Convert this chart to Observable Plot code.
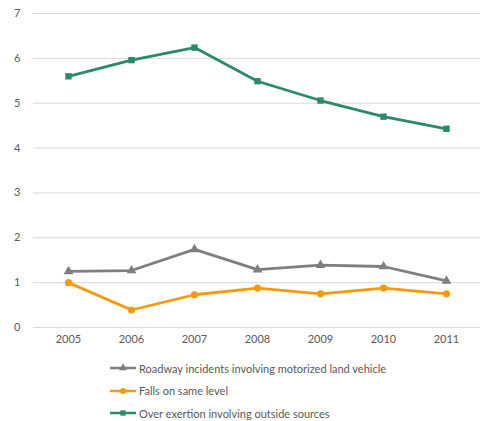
<!DOCTYPE html>
<html>
<head>
<meta charset="utf-8">
<script src="https://cdn.jsdelivr.net/npm/d3@7"></script>
<script src="https://cdn.jsdelivr.net/npm/@observablehq/plot@0.6"></script>
<style>
  body { margin: 0; background: #fff; font-family: Lato, "Open Sans", sans-serif; }
  #legend { margin-left: 110px; margin-top: 5px; font-size: 11px; color: #595959; }
  .row { display: flex; align-items: center; height: 22.5px; }
  .row svg { margin-right: 3px; }
</style>
</head>
<body>
<div id="chart"></div>
<div id="legend"></div>
<script>
const years = [2005, 2006, 2007, 2008, 2009, 2010, 2011];
const seriesNames = [
  "Roadway incidents involving motorized land vehicle",
  "Falls on same level",
  "Over exertion involving outside sources"
];
const roadway = [1.25, 1.27, 1.74, 1.29, 1.39, 1.36, 1.04];
const falls = [1.00, 0.39, 0.73, 0.88, 0.75, 0.88, 0.75];
const overexertion = [5.60, 5.96, 6.24, 5.49, 5.06, 4.70, 4.43];
const colors = ["#7f7f7f", "#f7990f", "#2a8a6a"];
const symbols = ["triangle", "circle", "square"];
const yTicks = [0, 1, 2, 3, 4, 5, 6, 7];

const valuesList = [roadway, falls, overexertion];
const data = [];
seriesNames.forEach((s, i) => years.forEach((y, j) => data.push({series: s, year: String(y), value: valuesList[i][j]})));

const chart = Plot.plot({
  width: 487,
  height: 352,
  marginLeft: 33,
  marginRight: 7,
  marginTop: 13,
  marginBottom: 25,
  style: {fontFamily: "Lato, 'Open Sans', sans-serif", fontSize: "11px", color: "#595959"},
  x: {type: "point", domain: years.map(String), padding: 0.5, label: null, tickSize: 0, tickPadding: 8},
  y: {domain: [0, 7], ticks: yTicks, label: null, tickSize: 0, tickPadding: 13},
  color: {domain: seriesNames, range: colors},
  symbol: {domain: seriesNames, range: symbols},
  marks: [
    Plot.gridY(yTicks, {stroke: "#d9d9d9", strokeOpacity: 1, strokeWidth: 1}),
    Plot.axisX({tickSize: 0, tickPadding: 8, fill: "#595959"}),
    Plot.axisY(yTicks, {tickSize: 0, tickPadding: 13, fill: "#595959"}),
    Plot.line(data, {x: "year", y: "value", z: "series", stroke: "series", strokeWidth: 2.8}),
    Plot.dot(data, {x: "year", y: "value", symbol: "series", fill: "series", stroke: null, r: 3.6})
  ]
});
document.getElementById("chart").appendChild(chart);

const legend = d3.select("#legend");
seriesNames.forEach((s, i) => {
  const row = legend.append("div").attr("class", "row");
  const sv = row.append("svg").attr("width", 26).attr("height", 10);
  sv.append("line").attr("x1", 0).attr("x2", 26).attr("y1", 5).attr("y2", 5)
    .attr("stroke", colors[i]).attr("stroke-width", 2.5);
  sv.append("path").attr("transform", "translate(13,5)")
    .attr("d", d3.symbol(i === 0 ? d3.symbolTriangle : i === 1 ? d3.symbolCircle : d3.symbolSquare, 28)())
    .attr("fill", colors[i]);
  row.append("span").text(s);
});
</script>
</body>
</html>
